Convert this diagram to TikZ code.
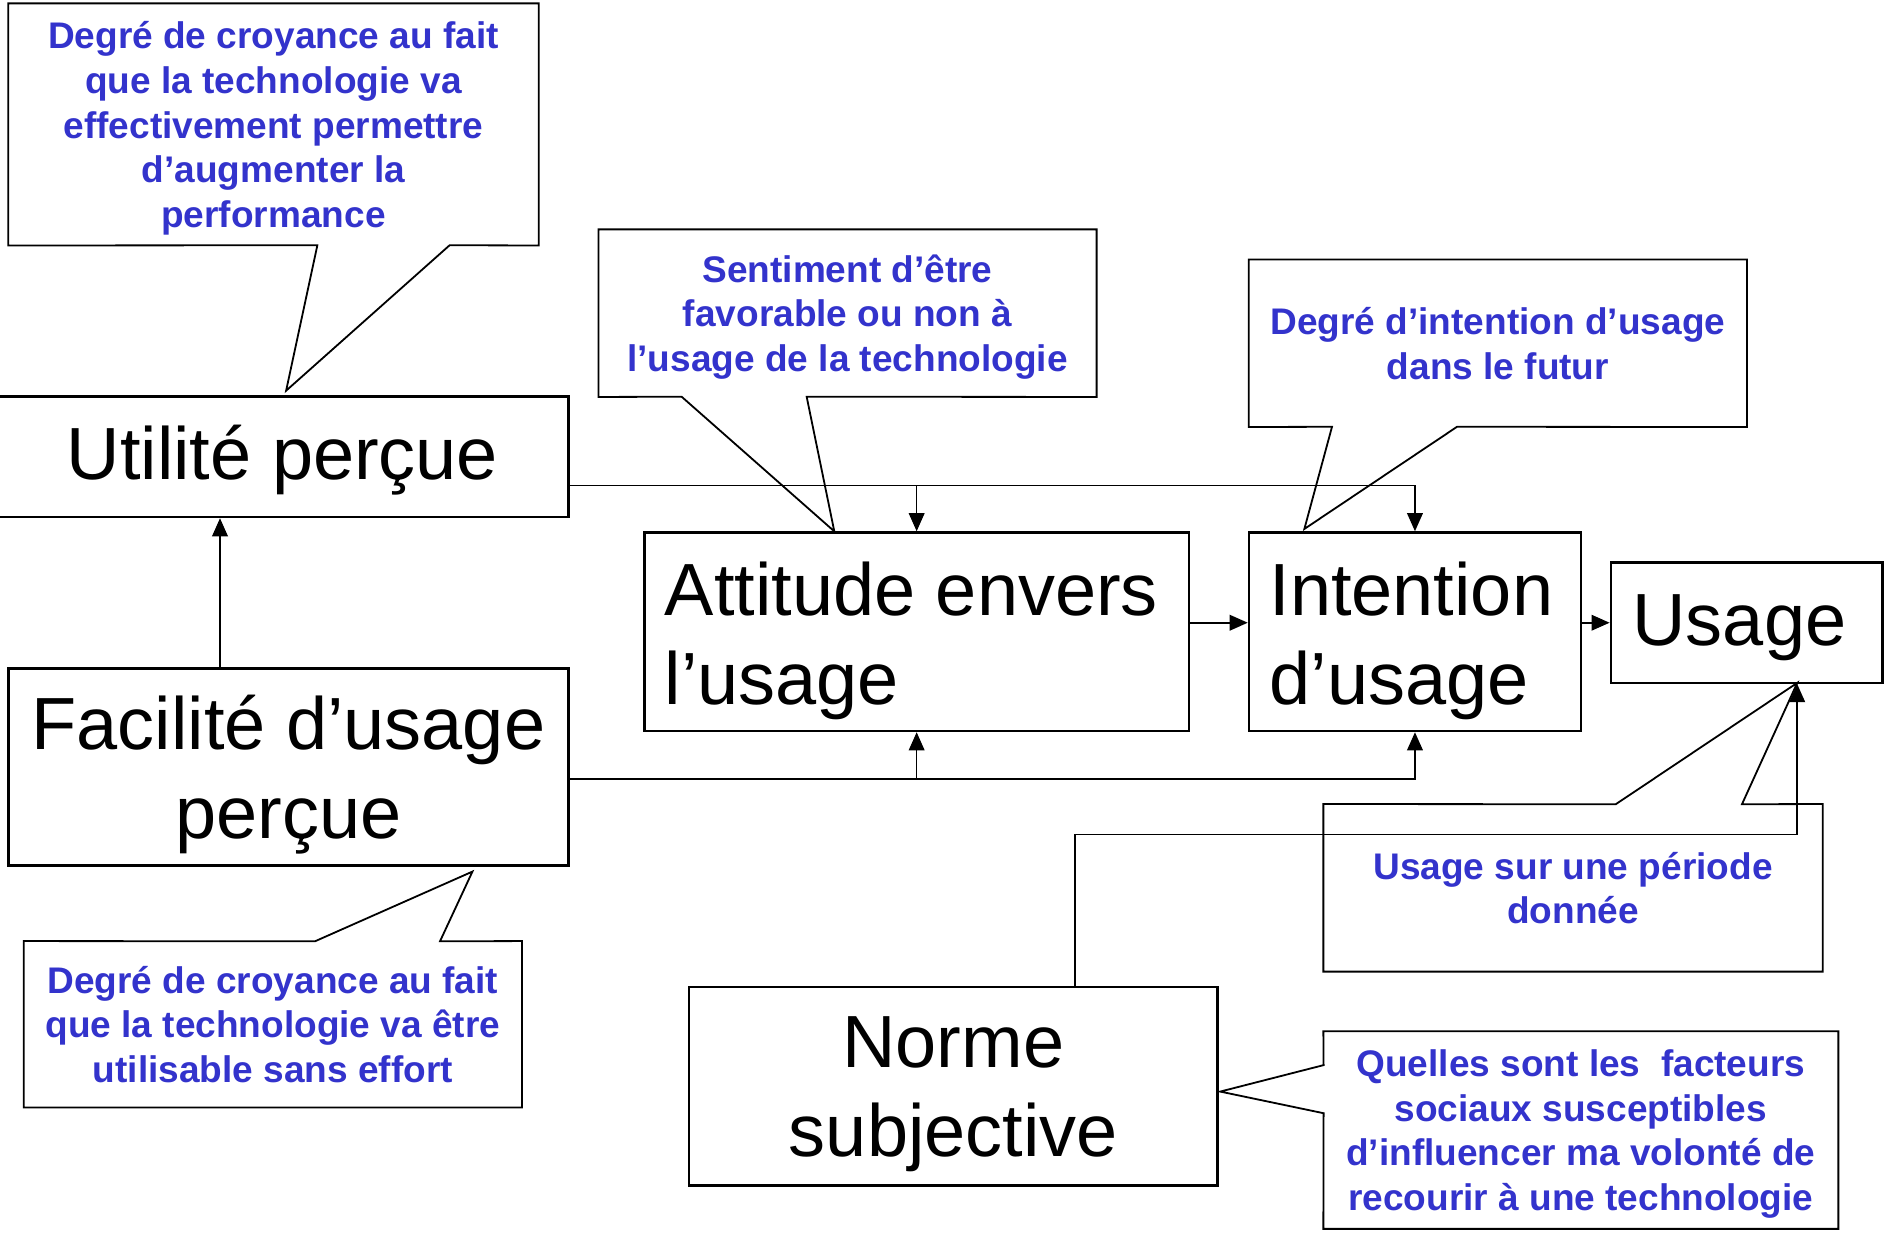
\documentclass[tikz,border=0pt]{standalone}
\usepackage{fontspec}
\setmainfont{Liberation Sans}
\usetikzlibrary{arrows.meta}
\definecolor{cblue}{RGB}{51,51,204}
\begin{document}
\begin{tikzpicture}[x=1pt,y=-1pt,
  bigbox/.style={draw, line width=2.2pt, inner ysep=0pt, font=\fontsize{61.5}{74}\selectfont},
  ctext/.style={inner sep=0pt, text depth=0pt, text=cblue, align=center, font=\bfseries\fontsize{30.8}{37.2}\selectfont},
  callout/.style={draw, line width=1.5pt, line join=miter},
  conn/.style={line width=1.3pt, -{Triangle[length=15pt,width=13pt]}}]
\useasboundingbox[fill=white] (0,0) rectangle (1568,1025);

% main boxes
\node[bigbox, text depth=7pt, minimum width=476pt, minimum height=100pt, align=center] (util) at (235,380) {Utilité perçue};
\node[bigbox, text depth=-2pt, minimum width=466pt, minimum height=164pt, align=center] (fac) at (240,638) {Facilité d’usage\\perçue};
\node[bigbox, text depth=71pt, inner xsep=17pt, text width=419pt, minimum height=165pt, align=flush left] (att) at (762.5,525.5) {Attitude envers\\l’usage};
\node[bigbox, text depth=71pt, inner xsep=17pt, text width=242pt, minimum height=165pt, align=flush left] (int) at (1177,525.5) {Intention\\d’usage};
\node[bigbox, text depth=5pt, inner xsep=18pt, text width=190pt, minimum height=100pt, align=flush left] (usage) at (1453,518) {Usage};
\node[bigbox, text depth=-3pt, minimum width=440pt, minimum height=165pt, align=center] (norme) at (793,903.5) {Norme\\subjective};

% connectors
\draw[conn] ([xshift=-57pt]fac.north) -- ([xshift=-57pt]fac.north |- util.south);
\draw[conn] ([yshift=-24pt]util.east) -| (att.north);
\draw[conn] ([yshift=-24pt]util.east) -| (int.north);
\draw[conn] ([yshift=-10pt]fac.east) -| (att.south);
\draw[conn] ([yshift=-10pt]fac.east) -| (int.south);
\draw[conn] ([yshift=7.5pt]att.east) -- ([yshift=7.5pt]att.east -| int.west);
\draw[conn] (int.east |- usage.west) -- (usage.west);
\draw[conn] ([xshift=101pt]norme.north) |- ([xshift=42pt,yshift=-125pt]usage.south) -- ([xshift=42pt]usage.south);

% callouts
\node[ctext, minimum width=441pt, minimum height=201pt] (c1) at (227.5,103.5) {Degré de croyance au fait\\que la technologie va\\effectivement permettre\\d’augmenter la\\performance};
\draw[callout] (c1.south west) -- (c1.north west) -- (c1.north east) -- (c1.south east) -- (374,204) -- (238,325) -- (264,204) -- cycle;

\node[ctext, minimum width=414pt, minimum height=139pt] (c2) at (705,260.5) {Sentiment d’être\\favorable ou non à\\l’usage de la technologie};
\draw[callout] (c2.south west) -- (c2.north west) -- (c2.north east) -- (c2.south east) -- (671,330) -- (694,442) -- (567,330) -- cycle;

\node[ctext, minimum width=414pt, minimum height=139pt] (c3) at (1246,285.5) {Degré d’intention d’usage\\dans le futur};
\draw[callout] (c3.south west) -- (c3.north west) -- (c3.north east) -- (c3.south east) -- (1212,355) -- (1085,440) -- (1108,355) -- cycle;

\node[ctext, minimum width=415pt, minimum height=139pt] (c4) at (1308.5,738.5) {Usage sur une période\\donnée};
\draw[callout] (c4.north west) -- (1344,669) -- (1495,568) -- (1449,669) -- (c4.north east) -- (c4.south east) -- (c4.south west) -- cycle;

\node[ctext, minimum width=428pt, minimum height=164pt] (c5) at (1315,940) {Quelles sont les \ facteurs\\sociaux susceptibles\\d’influencer ma volonté de\\recourir à une technologie};
\draw[callout] (c5.north west) -- (c5.north east) -- (c5.south east) -- (c5.south west) -- (1101,926) -- (1015,908) -- (1101,886) -- cycle;

\node[ctext, minimum width=414pt, minimum height=138pt] (c6) at (227,852) {Degré de croyance au fait\\que la technologie va être\\utilisable sans effort};
\draw[callout] (c6.north west) -- (262,783) -- (393,725) -- (366,783) -- (c6.north east) -- (c6.south east) -- (c6.south west) -- cycle;
\end{tikzpicture}
\end{document}
